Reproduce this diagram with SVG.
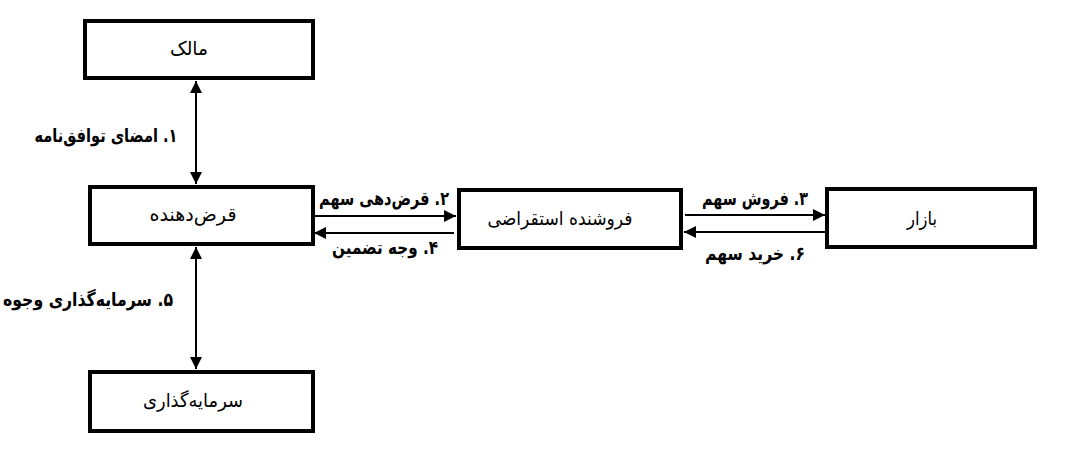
<svg xmlns="http://www.w3.org/2000/svg" width="1084" height="462" viewBox="0 0 1084 462">
<style>
.box{fill:#fff;stroke:#000;stroke-width:4}
.lbl{font-family:"DejaVu Sans",sans-serif;font-size:19px;fill:#000;text-anchor:middle;direction:rtl}
.edge{font-family:"DejaVu Sans",sans-serif;font-size:19px;font-weight:bold;fill:#000;text-anchor:middle;direction:rtl}
.ln{stroke:#000;stroke-width:2;fill:none}
</style>
<defs>
<marker id="ah" viewBox="0 0 12 12" refX="12" refY="6" markerWidth="12" markerHeight="12" markerUnits="userSpaceOnUse" orient="auto-start-reverse">
<path d="M0,0 L12,6 L0,12 Z" fill="#000"/>
</marker>
</defs>
<rect width="1084" height="462" fill="#fff"/>
<g id="n-malek"><rect class="box" x="85" y="21" width="228" height="57"/><text class="lbl" x="189" y="55" textLength="38" lengthAdjust="spacingAndGlyphs">مالک</text></g>
<g id="n-lender"><rect class="box" x="90" y="187" width="223" height="57"/><text class="lbl" x="193" y="221" textLength="87" lengthAdjust="spacingAndGlyphs">قرض‌دهنده</text></g>
<g id="n-investor"><rect class="box" x="90" y="372" width="223" height="59"/><text class="lbl" x="193" y="407" textLength="100" lengthAdjust="spacingAndGlyphs">سرمایه‌گذاری</text></g>
<g id="n-seller"><rect class="box" x="459" y="190" width="222" height="58"/><text class="lbl" x="560" y="225" textLength="145" lengthAdjust="spacingAndGlyphs">فروشنده استقراضی</text></g>
<g id="n-market"><rect class="box" x="827" y="189" width="208" height="58"/><text class="lbl" x="922" y="225" textLength="30" lengthAdjust="spacingAndGlyphs">بازار</text></g>
<g id="connectors">
<line class="ln" x1="196" y1="81" x2="196" y2="184" marker-start="url(#ah)" marker-end="url(#ah)"/>
<line class="ln" x1="196" y1="247" x2="196" y2="369" marker-start="url(#ah)" marker-end="url(#ah)"/>
<line class="ln" x1="315" y1="216" x2="456" y2="216" marker-end="url(#ah)"/>
<line class="ln" x1="454" y1="233" x2="314" y2="233" marker-end="url(#ah)"/>
<line class="ln" x1="685" y1="215" x2="825" y2="215" marker-end="url(#ah)"/>
<line class="ln" x1="825" y1="232" x2="684" y2="232" marker-end="url(#ah)"/>
<text class="edge" x="106" y="142" textLength="143" lengthAdjust="spacingAndGlyphs">۱. امضای توافق‌نامه</text>
<text class="edge" x="384" y="205" textLength="130" lengthAdjust="spacingAndGlyphs">۲. قرض‌دهی سهم</text>
<text class="edge" x="385" y="254" textLength="106" lengthAdjust="spacingAndGlyphs">۴. وجه تضمین</text>
<text class="edge" x="755" y="205" textLength="106" lengthAdjust="spacingAndGlyphs">۳. فروش سهم</text>
<text class="edge" x="755" y="260" textLength="100" lengthAdjust="spacingAndGlyphs">۶. خرید سهم</text>
<text class="edge" x="88" y="306" textLength="170" lengthAdjust="spacingAndGlyphs">۵. سرمایه‌گذاری وجوه</text>
</g>
</svg>
